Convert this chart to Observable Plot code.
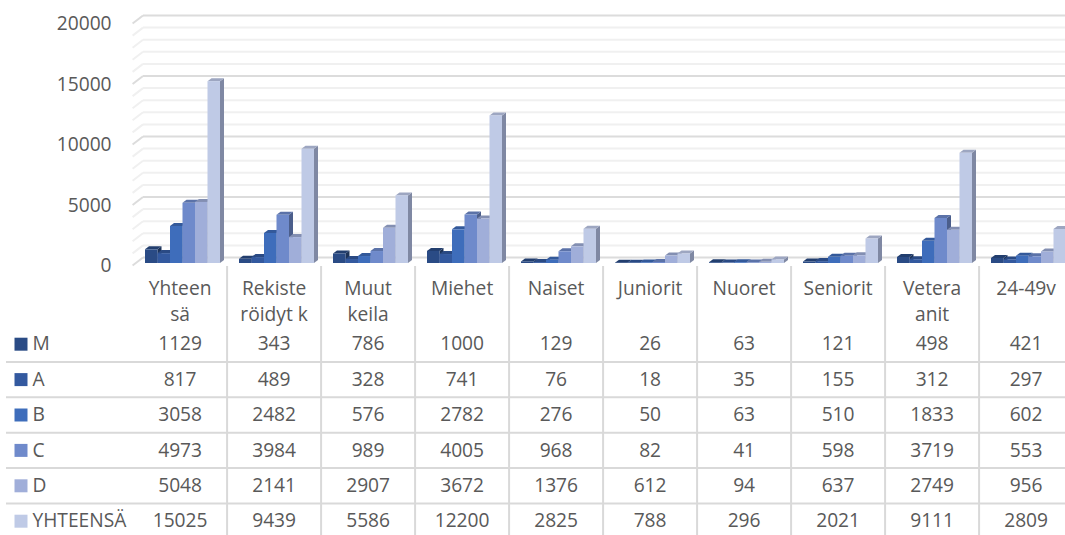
<!DOCTYPE html>
<html>
<head>
<meta charset="utf-8">
<script src="https://cdn.jsdelivr.net/npm/d3@7"></script>
<script src="https://cdn.jsdelivr.net/npm/@observablehq/plot@0.6"></script>
<style>
html,body{margin:0;padding:0;background:#fff;overflow:hidden}
#chart{position:relative;width:1065px;height:535px}
#chart svg{display:block;position:absolute;left:0}
</style>
</head>
<body>
<div id="chart"></div>
<script>
const categories = ["Yhteensä","Rekisteröidyt k","Muut keila","Miehet","Naiset","Juniorit","Nuoret","Seniorit","Veteraanit","24-49v"];
const categoryLabels = ["Yhteen\nsä","Rekiste\nröidyt k","Muut\nkeila","Miehet","Naiset","Juniorit","Nuoret","Seniorit","Vetera\nanit","24-49v"];
const seriesNames = ["M","A","B","C","D","YHTEENSÄ"];
const M = [1129,343,786,1000,129,26,63,121,498,421];
const A = [817,489,328,741,76,18,35,155,312,297];
const B = [3058,2482,576,2782,276,50,63,510,1833,602];
const C = [4973,3984,989,4005,968,82,41,598,3719,553];
const D = [5048,2141,2907,3672,1376,612,94,637,2749,956];
const YHTEENSA = [15025,9439,5586,12200,2825,788,296,2021,9111,2809];
const seriesValues = [M,A,B,C,D,YHTEENSA];
const colors = ["#2a4b85","#33599f","#3e6dbb","#6f8acb","#a0aed9","#bfcae6"];
const sideColors = ["#1d3358","#223c6b","#2a4a80","#4b5e8b","#6d7794","#7f88a3"];
const topColors = ["#223e6e","#2a4a84","#33599a","#5b72a8","#838fb2","#9da6c1"];
const majorTicks = [0,5000,10000,15000,20000];
const minorTicks = [1000,2000,3000,4000,6000,7000,8000,9000,11000,12000,13000,14000,16000,17000,18000,19000];

const font = "'Open Sans', sans-serif";
const fs = 19.2;
const textColor = "#595959";
const xScale = {type: "band", domain: categories, range: [132.6, 1072.6], padding: 0, round: false};
const bandW = 94, barW = 12.5, barStart = 12.4, depthX = 4, depthY = 3;

function withDepth(k) {
  return function(index, scales, values, dims, ctx, next) {
    const g = next(index, scales, values, dims, ctx);
    d3.select(g).selectAll("rect").each(function() {
      const r = d3.select(this);
      const x = +r.attr("x"), y = +r.attr("y"), w = +r.attr("width"), h = +r.attr("height");
      const parent = this.parentNode;
      const side = document.createElementNS("http://www.w3.org/2000/svg","path");
      side.setAttribute("d", `M${x+w},${y}L${x+w+depthX},${y-depthY}L${x+w+depthX},${y+h-depthY}L${x+w},${y+h}Z`);
      side.setAttribute("fill", sideColors[k]);
      const top = document.createElementNS("http://www.w3.org/2000/svg","path");
      top.setAttribute("d", `M${x},${y}L${x+depthX},${y-depthY}L${x+w+depthX},${y-depthY}L${x+w},${y}Z`);
      top.setAttribute("fill", topColors[k]);
      parent.insertBefore(side, this);
      parent.insertBefore(top, this);
    });
    return g;
  };
}

function withSlant(index, scales, values, dims, ctx, next) {
  const g = next(index, scales, values, dims, ctx);
  d3.select(g).selectAll("line").each(function() {
    const l = d3.select(this);
    const x = +l.attr("x1"), y = +l.attr("y1");
    const s = document.createElementNS("http://www.w3.org/2000/svg","line");
    s.setAttribute("x1", x - 10.4); s.setAttribute("x2", x);
    s.setAttribute("y1", y + 8); s.setAttribute("y2", y);
    this.parentNode.appendChild(s);
  });
  return g;
}

const chart = Plot.plot({
  width: 1065, height: 285,
  marginLeft: 132.6, marginRight: 0, marginTop: 0, marginBottom: 0,
  style: {fontFamily: font, fontSize: fs + "px", color: textColor, background: "#fff", top: "0px"},
  x: {...xScale, axis: null},
  y: {domain: [0, 20000], range: [265, 23], axis: null},
  marks: [
    Plot.ruleY(minorTicks, {stroke: "#f0f0f0", strokeWidth: 2, insetLeft: 10.4, dy: -8, render: withSlant}),
    Plot.ruleY(majorTicks, {stroke: "#dcdcdc", strokeWidth: 2, insetLeft: 10.4, dy: -8, render: withSlant}),
    Plot.axisY({ticks: majorTicks, tickSize: 0, tickPadding: 21.5, tickFormat: d => String(d), label: null, fontSize: fs, fill: textColor, dy: 0.5}),
    ...seriesValues.map((vals, k) => Plot.barY(vals, {
      x: (d, i) => categories[i],
      y: d => d,
      fill: colors[k],
      insetLeft: barStart + barW * k,
      insetRight: bandW - barStart - barW * (k + 1),
      dy: -2,
      render: withDepth(k)
    }))
  ]
});

const table = Plot.plot({
  width: 1065, height: 269,
  marginLeft: 6, marginRight: 0, marginTop: 0, marginBottom: 0,
  style: {fontFamily: font, fontSize: fs + "px", color: textColor, background: "transparent", top: "266px"},
  x: {...xScale, axis: null},
  y: {type: "band", domain: seriesNames, range: [60, 272.4], padding: 0, round: false, axis: null},
  marks: [
    Plot.ruleX(categories.slice(1), {x: d => d, dx: -47, stroke: "#d9d9d9", strokeWidth: 2}),
    Plot.ruleY(seriesNames.slice(0, 5), {y: d => d, dy: 17.7, stroke: "#d9d9d9", strokeWidth: 2}),
    Plot.text(categoryLabels, {x: (d, i) => categories[i], text: d => d, frameAnchor: "top", lineAnchor: "top", dy: 9, lineHeight: 1.4, fontSize: fs, fill: textColor}),
    Plot.dot(seriesNames, {y: d => d, frameAnchor: "left", dx: 14.5, symbol: "square", r: 7.33, fill: (d, i) => colors[i], stroke: "none"}),
    Plot.text(seriesNames, {y: d => d, text: d => d, frameAnchor: "left", dx: 26, textAnchor: "start", fontSize: fs, fill: textColor}),
    ...seriesValues.map((vals, k) => Plot.text(vals, {
      x: (d, i) => categories[i],
      y: () => seriesNames[k],
      text: d => String(d),
      fontSize: fs,
      fill: textColor
    }))
  ]
});

document.getElementById("chart").append(chart, table);
</script>
</body>
</html>
